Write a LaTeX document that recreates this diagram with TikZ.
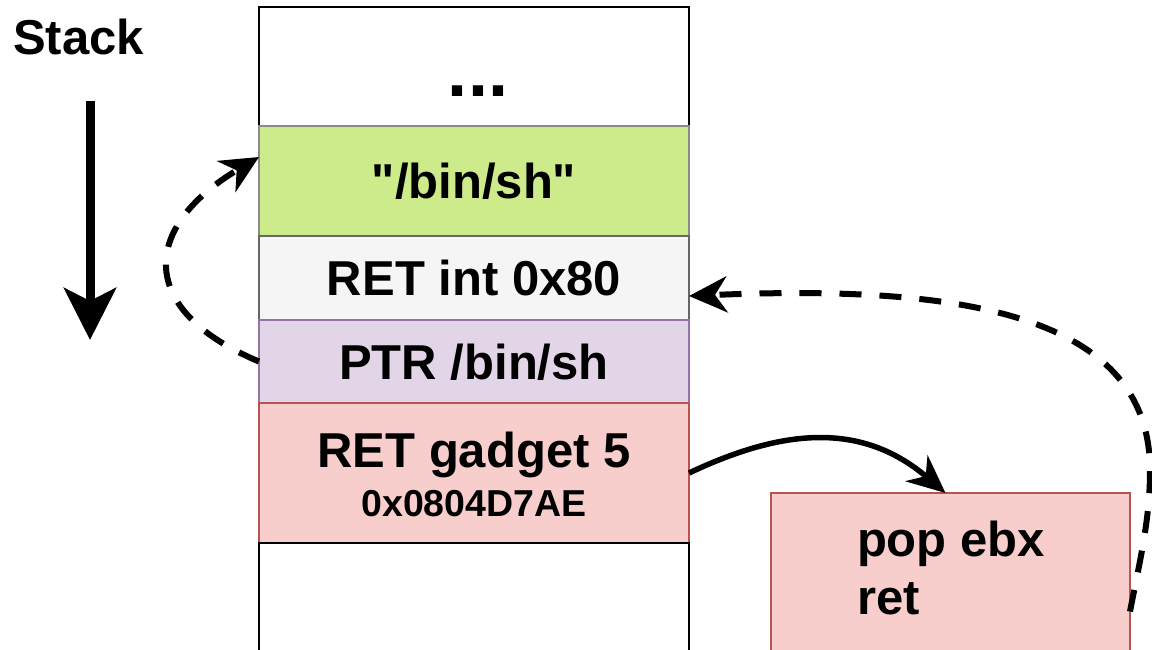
\documentclass[tikz,border=0pt]{standalone}
\usepackage{fontspec}
\setmainfont{Liberation Sans}
\usetikzlibrary{arrows.meta}

% straight double quote glyph, bypassing the TeX ligature mapping
\newcommand\dquote{\XeTeXglyph\XeTeXcharglyph"22\relax}

\definecolor{slotgreen}{HTML}{CDEB8B}
\definecolor{slotgreenline}{HTML}{8A8A8A}
\definecolor{slotgray}{HTML}{F5F5F5}
\definecolor{slotgrayline}{HTML}{666666}
\definecolor{slotpurple}{HTML}{E1D5E7}
\definecolor{slotpurpleline}{HTML}{9673A6}
\definecolor{slotred}{HTML}{F8CECC}
\definecolor{slotredline}{HTML}{B85450}

\tikzset{
  bigtext/.style={font=\fontsize{49}{58}\selectfont\bfseries},
  smalltext/.style={font=\fontsize{37.5}{45}\selectfont\bfseries},
  slot/.style={draw, line width=2.5pt, minimum width=430pt, inner sep=0pt,
    outer sep=0pt, anchor=center, bigtext, text height=35pt, text depth=0pt},
  txt/.style={inner sep=0pt, outer sep=0pt},
  dashlink/.style={line width=6pt, dash pattern=on 22pt off 18pt,
    -{Stealth[length=38pt, width=36pt, inset=12pt]}},
  solidlink/.style={line width=5.5pt,
    -{Stealth[length=38pt, width=34pt, inset=12pt]}},
  stackarrow/.style={line width=9pt,
    -{Stealth[length=52pt, width=52pt, inset=13pt]}}
}

\begin{document}
\begin{tikzpicture}[x=1pt, y=-1pt]
  \clip (0,0) rectangle (1152,650);
  \fill[white] (0,0) rectangle (1152,650);

  % stack growth direction
  \node[txt, bigtext, anchor=base west] (stacklabel) at (13,55) {Stack};
  \coordinate (growtop) at (90,101);
  \coordinate (growbot) at (90,340);
  \draw[stackarrow] (growtop) -- (growbot);

  % stack slots, top to bottom
  \node[slot, fill=white, minimum height=119pt] (top) at (474,66.5) {};
  \node[txt, font=\fontsize{72}{80}\selectfont\bfseries, anchor=base] (dots) at (478,97) {...};
  \node[slot, fill=slotgreen, draw=slotgreenline, minimum height=110pt] (binsh) at (474,181) {\dquote/bin/sh\dquote};
  \node[slot, fill=slotgray, draw=slotgrayline, minimum height=84pt] (int80) at (474,278) {RET int 0x80};
  \node[slot, fill=slotpurple, draw=slotpurpleline, minimum height=83pt] (ptr) at (474,361.5) {PTR /bin/sh};
  \node[slot, fill=slotred, draw=slotredline, minimum height=140pt] (gadget) at (474,473) {};
  \node[txt, bigtext, anchor=base] (gadgetname) at (474,467) {RET gadget 5};
  \node[txt, smalltext, anchor=base] (gadgetaddr) at (474,516) {0x0804D7AE};
  \node[slot, fill=white, minimum height=157pt] (bottom) at (474,621.5) {};

  % gadget body
  \node[draw=slotredline, fill=slotred, line width=2pt, minimum width=359pt,
        minimum height=207pt, inner sep=0pt, outer sep=0pt] (pop) at (950.5,596.5) {};
  \node[txt, bigtext, anchor=base west] (popline) at (857,556) {pop ebx};
  \node[txt, bigtext, anchor=base west] (retline) at (857,614) {ret};

  % control flow
  \draw[solidlink] (gadget.east) .. controls (780,430) and (860,420) .. ([xshift=-5pt]pop.north);
  \draw[dashlink] (ptr.west) .. controls +(-122,-51) and +(-119,71) .. ([yshift=24pt]binsh.west);
  \coordinate (rbend) at (1150,470);
  \draw[dashlink] ([yshift=-15pt]pop.east) .. controls (1140,560) and (1150,520) .. (rbend)
        .. controls (1150,310) and (950,285) .. ([yshift=-18pt]int80.east);
\end{tikzpicture}
\end{document}
